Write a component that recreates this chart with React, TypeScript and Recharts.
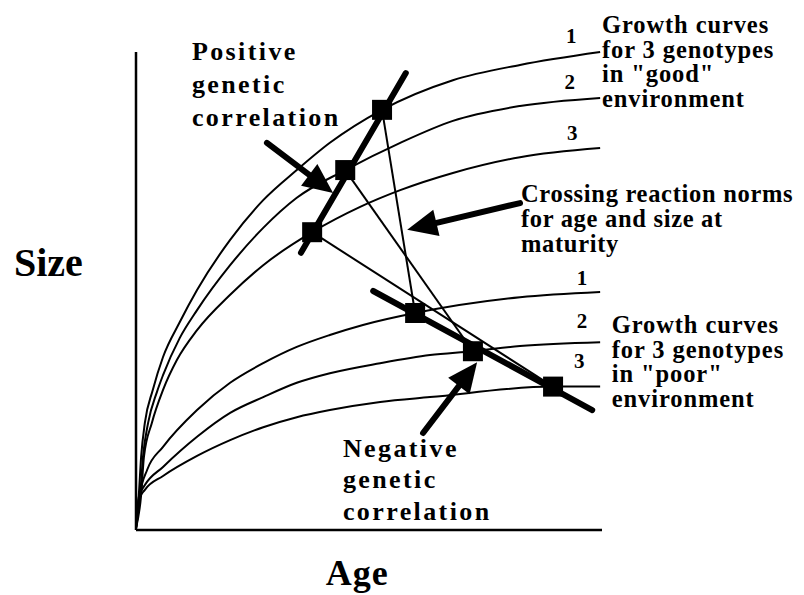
import React from 'react';
import { ComposedChart, Line, XAxis, YAxis, ReferenceDot, ReferenceLine, Scatter, Label } from 'recharts';

type Pt = { x: number; y: number };
const P = (x: number, y: number): Pt => ({ x, y });

// Growth curves, "good" environment (Age, Size)
const goodCurve1: Pt[] = [P(0,0.4),P(0.6,7.3),P(1.1,15.3),P(1.9,22.4),P(3.6,29.3),P(5.8,36.2),P(9.4,43.5),P(13.1,50.2),P(20.2,60.7),P(27.3,69.0),P(34.5,75.3),P(41.6,81.0),P(52.8,87.9),P(68.0,94.1),P(82.4,97.3),P(99.6,100)];
const goodCurve2: Pt[] = [P(0,0.4),P(0.9,7.3),P(1.5,15.3),P(2.6,22.4),P(4.5,28.9),P(5.8,32.4),P(9.4,40.2),P(13.1,46.0),P(20.2,55.4),P(27.3,63.2),P(34.5,69.5),P(44.9,75.3),P(56.7,81.0),P(68.0,85.6),P(82.4,88.7),P(99.6,90.4)];
const goodCurve3: Pt[] = [P(0,0.4),P(1.1,7.3),P(1.7,15.3),P(3.4,22.4),P(5.8,29.3),P(8.8,35.6),P(13.1,41.8),P(20.2,49.2),P(27.3,55.4),P(37.8,62.3),P(48.1,67.6),P(56.7,71.1),P(68.0,74.7),P(82.4,78.0),P(99.6,79.9)];
// Growth curves, "poor" environment
const poorCurve1: Pt[] = [P(0,0.4),P(0.9,7.7),P(2.4,12.6),P(5.8,17.4),P(13.1,25.1),P(20.2,30.8),P(27.3,34.9),P(34.5,38.3),P(41.6,40.8),P(48.7,42.9),P(59.9,45.4),P(82.4,48.7),P(99.6,49.8)];
const poorCurve2: Pt[] = [P(0,0.4),P(0.6,6.9),P(1.9,9.4),P(5.8,13.2),P(13.1,19.5),P(20.2,24.5),P(27.3,27.8),P(34.5,30.8),P(41.6,32.8),P(52.4,34.9),P(63.1,36.6),P(72.3,37.4),P(82.4,38.5),P(99.6,39.3)];
const poorCurve3: Pt[] = [P(0,0.4),P(0.6,6.3),P(1.9,8.4),P(5.8,11.3),P(13.1,15.5),P(20.2,18.8),P(27.3,21.5),P(34.5,23.6),P(41.6,25.1),P(52.4,26.8),P(63.1,27.8),P(89.5,30.0),P(99.6,30.0)];

// Age and size at maturity for genotypes 1..3
const goodMaturity: Pt[] = [P(52.8,87.9),P(44.9,75.3),P(37.8,62.3)];
const poorMaturity: Pt[] = [P(59.9,45.4),P(72.3,37.4),P(89.5,30.0)];

// Genetic correlation lines
const positiveCorrelation: Pt[] = [P(35.4,58.0),P(57.9,95.6)];
const negativeCorrelation: Pt[] = [P(50.9,50.0),P(97.9,25.1)];

// Annotation arrows [from, to]
const positiveArrow: Pt[] = [P(28.1,81.0),P(42.3,70.5)];
const crossingArrow: Pt[] = [P(82.4,68.4),P(58.2,62.8)];
const negativeArrow: Pt[] = [P(61.6,20.3),P(73.2,35.1)];

// Text
const positiveText = ['Positive', 'genetic', 'correlation'];
const negativeText = ['Negative', 'genetic', 'correlation'];
const crossingText = ['Crossing reaction norms', 'for age and size at', 'maturity'];
const goodText = ['Growth curves', 'for 3 genotypes', 'in "good"', 'environment'];
const poorText = ['Growth curves', 'for 3 genotypes', 'in "poor"', 'environment'];
const genotypeLabels = ['1', '2', '3'];

const FONT = '"Liberation Serif", "Times New Roman", serif';
const curves = [goodCurve1, goodCurve2, goodCurve3, poorCurve1, poorCurve2, poorCurve3];
const squares = [...goodMaturity, ...poorMaturity];

const SquareShape = (p: any) => (
  <rect x={p.cx - 10} y={p.cy - 10} width={20} height={20} fill="#000" />
);

const ArrowShape = (props: any) => {
  const x1 = Number(props.x1), y1 = Number(props.y1), x2 = Number(props.x2), y2 = Number(props.y2);
  const dx = x2 - x1, dy = y2 - y1;
  const len = Math.hypot(dx, dy) || 1;
  const ux = dx / len, uy = dy / len;
  const headLen = 30, half = 13.5;
  const bx = x2 - ux * headLen, by = y2 - uy * headLen;
  const px = -uy, py = ux;
  return (
    <g>
      <line x1={x1} y1={y1} x2={bx + ux * 3} y2={by + uy * 3} stroke="#000" strokeWidth={6} strokeLinecap="round" />
      <polygon points={`${x2},${y2} ${bx + px * half},${by + py * half} ${bx - px * half},${by - py * half}`} fill="#000" />
    </g>
  );
};

const multiText = (lines: string[], size: number, lh: number, ls: number, anchor: 'start' | 'middle' = 'start') => (p: any) => (
  <text x={p.cx} y={p.cy} fontFamily={FONT} fontWeight="bold" fontSize={size} letterSpacing={ls} fill="#000" textAnchor={anchor}>
    {lines.map((l, i) => (
      <tspan key={i} x={p.cx} dy={i === 0 ? 0 : lh}>{l}</tspan>
    ))}
  </text>
);

const digitPos: Pt[] = [P(93.4,101.9),P(93.1,92.3),P(93.6,81.6),P(95.7,51.3),P(95.7,42.3),P(95.1,33.9)];

export default function App() {
  return (
    <div style={{ position: 'absolute', left: 0, top: 0, width: 804, height: 595, background: '#fff' }}>
      <ComposedChart width={804} height={595} margin={{ top: 52, right: 202, bottom: 0, left: 0 }}>
        <XAxis type="number" dataKey="x" domain={[0, 100]} tick={false} tickLine={false} height={65}
          axisLine={{ stroke: '#000', strokeWidth: 2.5 }}>
          <Label content={(p: any) => {
            const vb = p.viewBox || { x: 136, y: 530, width: 466, height: 65 };
            return <text x={vb.x + vb.width * 0.475} y={vb.y + 55} textAnchor="middle" fontFamily={FONT} fontWeight="bold" fontSize={36} letterSpacing={1} fill="#000">Age</text>;
          }} />
        </XAxis>
        <YAxis type="number" dataKey="y" domain={[0, 100]} tick={false} tickLine={false} width={136}
          axisLine={{ stroke: '#000', strokeWidth: 2.5 }}>
          <Label content={(p: any) => {
            const vb = p.viewBox || { x: 0, y: 52, width: 136, height: 478 };
            return <text x={vb.x + 14} y={vb.y + 224} fontFamily={FONT} fontWeight="bold" fontSize={40} fill="#000">Size</text>;
          }} />
        </YAxis>

        {curves.map((c, i) => (
          <Line key={'c' + i} data={c} dataKey="y" type="monotone" dot={false} activeDot={false}
            stroke="#000" strokeWidth={2} isAnimationActive={false} />
        ))}

        {goodMaturity.map((g, i) => (
          <Line key={'n' + i} data={[g, poorMaturity[i]]} dataKey="y" type="linear" dot={false} activeDot={false}
            stroke="#000" strokeWidth={2} isAnimationActive={false} />
        ))}

        <Line data={positiveCorrelation} dataKey="y" type="linear" dot={false} activeDot={false}
          stroke="#000" strokeWidth={6} strokeLinecap="round" isAnimationActive={false} />
        <Line data={negativeCorrelation} dataKey="y" type="linear" dot={false} activeDot={false}
          stroke="#000" strokeWidth={6} strokeLinecap="round" isAnimationActive={false} />

        <Scatter data={squares} shape={SquareShape} isAnimationActive={false} />

        {[positiveArrow, crossingArrow, negativeArrow].map((a, i) => (
          <ReferenceLine key={'a' + i} segment={[a[0], a[1]]} ifOverflow="visible" shape={ArrowShape} />
        ))}

        <ReferenceDot x={12.0} y={98.3} r={0} ifOverflow="visible" shape={multiText(positiveText, 26, 33, 2.4)} />
        <ReferenceDot x={44.4} y={15.3} r={0} ifOverflow="visible" shape={multiText(negativeText, 26, 31.5, 2.4)} />
        <ReferenceDot x={82.6} y={68.6} r={0} ifOverflow="visible" shape={multiText(crossingText, 24.5, 25, 0.7)} />
        <ReferenceDot x={100.0} y={104.0} r={0} ifOverflow="visible" shape={multiText(goodText, 24.5, 24.7, 0.9)} />
        <ReferenceDot x={102.1} y={41.2} r={0} ifOverflow="visible" shape={multiText(poorText, 24.5, 24.7, 0.9)} />
        {digitPos.map((d, i) => (
          <ReferenceDot key={'d' + i} x={d.x} y={d.y} r={0} ifOverflow="visible"
            shape={multiText([genotypeLabels[i % 3]], 21, 0, 0, 'middle')} />
        ))}
      </ComposedChart>
    </div>
  );
}
